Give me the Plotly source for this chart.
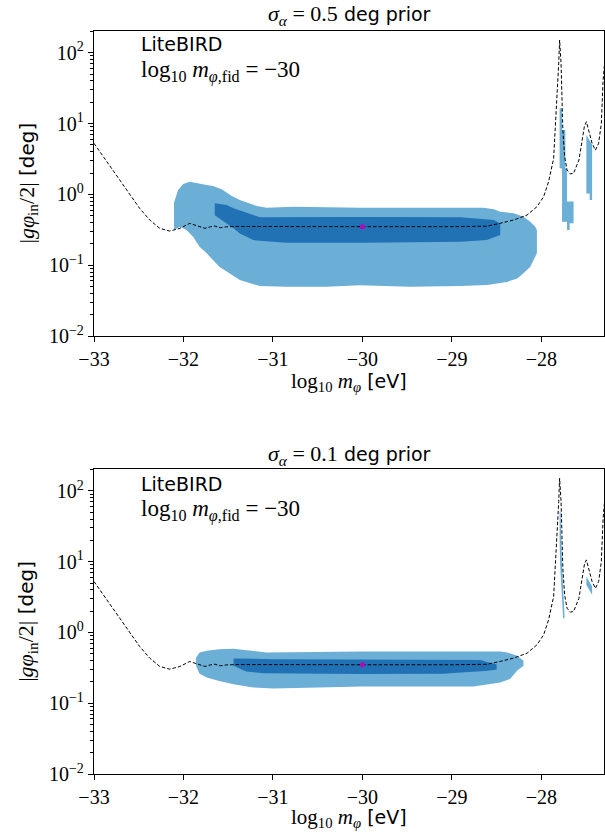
import plotly.graph_objects as go

# ---------------- data ----------------
# dashed theory curve |g phi_in / 2| vs log10 m_phi
curve_x = [-33.0, -32.935, -32.82, -32.79, -32.64, -32.56, -32.49, -32.377, -32.265,
           -32.153, -32.04, -31.93, -31.81, -31.76, -31.70, -31.65, -31.59, -31.52,
           -31.4, -31.0, -30.0, -29.0, -28.61, -28.46, -28.31, -28.16, -28.05, -27.975,
           -27.92, -27.863, -27.844, -27.825, -27.806, -27.796, -27.78, -27.77, -27.76,
           -27.74, -27.713, -27.676, -27.64, -27.58, -27.545, -27.52, -27.497, -27.47,
           -27.433, -27.396, -27.36, -27.33, -27.31, -27.29]
curve_y = [5.25, 4.0, 2.45, 2.2, 1.15, 0.83, 0.634, 0.434, 0.331,
           0.303, 0.331, 0.389, 0.348, 0.331, 0.348, 0.357, 0.338, 0.348,
           0.352, 0.35, 0.35, 0.35, 0.355, 0.39, 0.434, 0.51, 0.668, 0.925,
           1.5, 3.2, 8.1, 24, 71, 151, 71, 24, 8.1,
           3.4, 2.2, 1.94, 1.98, 3.05, 5.85, 9.0, 10.6, 8.1,
           5.25, 4.2, 5.25, 10, 41, 80]

fid_x = [-30.0]
fid_y = [0.35]

# sigma_alpha = 0.5 deg: 2-sigma (light) region, upper and lower edges
top2_up_x = [-32.106, -32.06, -32.004, -31.93, -31.742, -31.67, -31.574, -31.52, -31.46,
             -31.37, -31.29, -31.18, -31.07, -30.77, -30.03, -28.646, -28.53, -28.46,
             -28.31, -28.2, -28.124, -28.068, -28.05]
top2_up_y = [0.76, 1.15, 1.40, 1.51, 1.35, 1.31, 1.18, 1.05, 0.946,
             0.83, 0.76, 0.684, 0.646, 0.668, 0.646, 0.646, 0.614, 0.568,
             0.54, 0.483, 0.41, 0.35, 0.313]
top2_lo_x = [-28.05, -28.087, -28.124, -28.2, -28.27, -28.384, -28.61, -28.907, -29.47,
             -30.03, -30.4, -30.85, -31.145, -31.37, -31.52, -31.6, -31.67, -31.74,
             -31.82, -31.89, -31.966, -32.04, -32.106]
top2_lo_y = [0.147, 0.118, 0.095, 0.0766, 0.065, 0.058, 0.0524, 0.0507, 0.0496,
             0.052, 0.0496, 0.0496, 0.0507, 0.0616, 0.0807, 0.095, 0.118, 0.147,
             0.182, 0.25, 0.313, 0.35, 0.313]
# 1-sigma (dark) region
top1_up_x = [-31.65, -31.52, -31.44, -31.33, -31.22, -31.145, -30.0, -28.9, -28.53, -28.46]
top1_up_y = [0.746, 0.706, 0.634, 0.568, 0.508, 0.473, 0.48, 0.473, 0.434, 0.389]
top1_lo_x = [-28.46, -28.61, -28.9, -30.0, -30.85, -31.22, -31.29, -31.37, -31.44, -31.52, -31.59, -31.65]
top1_lo_y = [0.266, 0.226, 0.214, 0.207, 0.207, 0.226, 0.25, 0.28, 0.331, 0.389, 0.458, 0.508]
# small 2-sigma islands near the resonances
top_isl1_x = [-27.796, -27.769, -27.769, -27.732, -27.732, -27.713, -27.713, -27.64, -27.64,
              -27.684, -27.684, -27.713, -27.713, -27.769, -27.769, -27.796]
top_isl1_y = [16.4, 16.4, 8.1, 8.1, 2.33, 2.33, 0.79, 0.79, 0.39,
              0.39, 0.313, 0.313, 0.41, 0.41, 2.33, 2.33]
top_isl2_x = [-27.497, -27.433, -27.433, -27.46, -27.46, -27.497]
top_isl2_y = [6.9, 5.0, 0.83, 0.83, 1.03, 1.03]

# sigma_alpha = 0.1 deg
bot2_up_x = [-31.86, -31.82, -31.74, -31.6, -31.44, -31.22, -31.07, -30.0, -28.46, -28.38, -28.27, -28.2]
bot2_up_y = [0.44, 0.52, 0.55, 0.58, 0.59, 0.55, 0.52, 0.54, 0.54, 0.52, 0.47, 0.40]
bot2_lo_x = [-28.2, -28.27, -28.35, -28.46, -28.76, -30.0, -31.0, -31.22, -31.44, -31.6, -31.74, -31.82, -31.86]
bot2_lo_y = [0.34, 0.29, 0.22, 0.197, 0.173, 0.173, 0.162, 0.167, 0.186, 0.207, 0.231, 0.26, 0.34]
bot1_up_x = [-31.44, -31.2, -31.0, -28.68, -28.6, -28.5]
bot1_up_y = [0.43, 0.43, 0.42, 0.41, 0.38, 0.357]
bot1_lo_x = [-28.5, -28.6, -28.9, -29.1, -30.0, -31.1, -31.3, -31.44]
bot1_lo_y = [0.30, 0.287, 0.272, 0.262, 0.258, 0.266, 0.28, 0.34]
bot_isl1_x = [-27.796, -27.786, -27.769, -27.751, -27.74, -27.757, -27.769, -27.79, -27.796]
bot_isl1_y = [51, 51, 9.0, 2.74, 1.59, 1.59, 2.74, 9.0, 20]
bot_isl2_x = [-27.497, -27.433, -27.433, -27.497]
bot_isl2_y = [6.2, 4.47, 3.4, 4.7]

x_ticks = [-33, -32, -31, -30, -29, -28]
x_ticktext = ["\u221233", "\u221232", "\u221231", "\u221230", "\u221229", "\u221228"]
y_ticks = [0.01, 0.1, 1, 10, 100]
y_ticktext = ["10<sup>\u22122</sup>", "10<sup>\u22121</sup>", "10<sup>0</sup>", "10<sup>1</sup>", "10<sup>2</sup>"]
y_minor = [m * 10.0 ** k for k in range(-2, 3) for m in range(2, 10)]

panels = [("0.5", top2_up_x, top2_up_y, top2_lo_x, top2_lo_y, top1_up_x, top1_up_y, top1_lo_x, top1_lo_y,
           [(top_isl1_x, top_isl1_y), (top_isl2_x, top_isl2_y)]),
          ("0.1", bot2_up_x, bot2_up_y, bot2_lo_x, bot2_lo_y, bot1_up_x, bot1_up_y, bot1_lo_x, bot1_lo_y,
           [(bot_isl1_x, bot_isl1_y), (bot_isl2_x, bot_isl2_y)])]

LIGHT = "#6baed6"
DARK = "#2171b5"
SERIF = "Liberation Serif"
SANS = "DejaVu Sans"

fig = go.Figure()
for i, p in enumerate(panels):
    (_, u2x, u2y, l2x, l2y, u1x, u1y, l1x, l1y, islands) = p
    xa = "x" if i == 0 else "x2"
    ya = "y" if i == 0 else "y2"
    fig.add_trace(go.Scatter(x=u2x + l2x, y=u2y + l2y, mode="lines", fill="toself",
                             fillcolor=LIGHT, line=dict(width=0, color=LIGHT),
                             xaxis=xa, yaxis=ya, showlegend=False, hoverinfo="skip"))
    for ix, iy in islands:
        fig.add_trace(go.Scatter(x=ix, y=iy, mode="lines", fill="toself",
                                 fillcolor=LIGHT, line=dict(width=0, color=LIGHT),
                                 xaxis=xa, yaxis=ya, showlegend=False, hoverinfo="skip"))
    fig.add_trace(go.Scatter(x=u1x + l1x, y=u1y + l1y, mode="lines", fill="toself",
                             fillcolor=DARK, line=dict(width=0, color=DARK),
                             xaxis=xa, yaxis=ya, showlegend=False, hoverinfo="skip"))
    fig.add_trace(go.Scatter(x=curve_x, y=curve_y, mode="lines",
                             line=dict(color="black", width=1, dash="3.5px,2px"),
                             xaxis=xa, yaxis=ya, showlegend=False))
    fig.add_trace(go.Scatter(x=fid_x, y=fid_y, mode="markers",
                             marker=dict(color="#bf00bf", size=5),
                             xaxis=xa, yaxis=ya, showlegend=False))

axis_common = dict(showline=True, linecolor="black", linewidth=1.3, mirror=True,
                   ticks="outside", ticklen=5, tickwidth=1.2, tickcolor="black",
                   showgrid=False, zeroline=False, automargin=False,
                   tickfont=dict(family=SERIF, size=20, color="black"))

xax = dict(axis_common, range=[-33, -27.3], tickmode="array", tickvals=x_ticks, ticktext=x_ticktext)
yax = dict(axis_common, type="log", range=[-2, 2.306], tickmode="array", tickvals=y_ticks,
           ticktext=y_ticktext,
           minor=dict(tickmode="array", tickvals=y_minor, ticks="outside", ticklen=2.5,
                      tickwidth=1, tickcolor="black", showgrid=False))

top_dom = [(774 - 336) / 743, 1.0]
bot_dom = [0.0, (774 - 469.3) / 743]

fig.update_layout(
    width=605, height=833,
    margin=dict(l=94, r=1, t=31, b=59, autoexpand=False),
    paper_bgcolor="white", plot_bgcolor="white",
    xaxis=dict(xax, domain=[0, 1], anchor="y"),
    yaxis=dict(yax, domain=top_dom, anchor="x"),
    xaxis2=dict(xax, domain=[0, 1], anchor="y2"),
    yaxis2=dict(yax, domain=bot_dom, anchor="x2"),
    font=dict(family=SANS, size=19, color="black"),
)

def px2x(px):
    return (px - 94) / 510.0

def py2y(py):
    return (774 - py) / 743.0

SER_SPAN = f"font-family:{SERIF};font-size:22px"
XT_SPAN = f"font-family:{SERIF};font-size:21px"
ann = []
titles = [("0.5", 15, 44, 71, 382, 183.5), ("0.1", 455, 484, 511, 818, 621.8)]
for val, ty, l1y, l2y, xty, yty in titles:
    ann.append(dict(x=0.5, y=py2y(ty), xref="paper", yref="paper", showarrow=False,
                    xanchor="center", yanchor="middle",
                    text=f"<span style=\"{SER_SPAN}\"><i>σ</i><sub><i>α</i></sub> = {val}</span> deg prior",
                    font=dict(family=SANS, size=19)))
    ann.append(dict(x=px2x(139), y=py2y(l1y), xref="paper", yref="paper", showarrow=False,
                    xanchor="left", yanchor="middle", text="LiteBIRD",
                    font=dict(family=SANS, size=19)))
    ann.append(dict(x=px2x(139), y=py2y(l2y), xref="paper", yref="paper", showarrow=False,
                    xanchor="left", yanchor="middle",
                    text="log<sub>10</sub> <i>m</i><sub><i>φ</i>,fid</sub> = \u221230",
                    font=dict(family=SERIF, size=23)))
    ann.append(dict(x=0.5, y=py2y(xty), xref="paper", yref="paper", showarrow=False,
                    xanchor="center", yanchor="middle",
                    text=f"<span style=\"{XT_SPAN}\">log<sub>10</sub> <i>m</i><sub><i>φ</i></sub></span> [eV]",
                    font=dict(family=SANS, size=19)))
    ann.append(dict(x=px2x(27), y=py2y(yty), xref="paper", yref="paper", showarrow=False,
                    xanchor="center", yanchor="middle", textangle=-90,
                    text=f"<span style=\"{SER_SPAN}\">|<i>gφ</i><sub>in</sub>/2|</span> [deg]",
                    font=dict(family=SANS, size=20)))
fig.update_layout(annotations=ann)

fig.write_html("out.html", config={"displayModeBar": False},
               post_script="document.body.style.margin='0';document.body.style.overflow='hidden';")
